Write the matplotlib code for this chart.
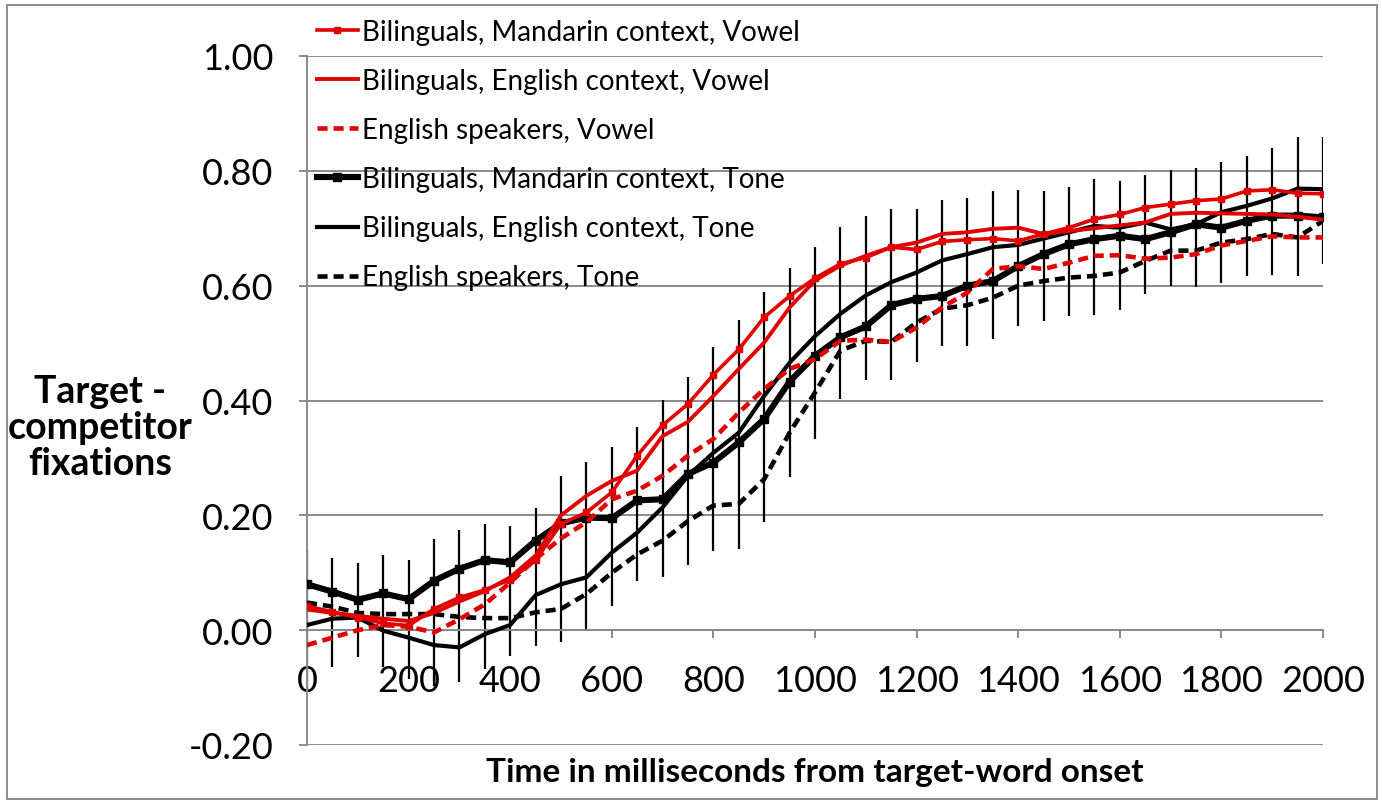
import matplotlib
matplotlib.use("Agg")
import matplotlib.pyplot as plt
from matplotlib.patches import Rectangle

plt.rcParams['font.family'] = ['Lato', 'DejaVu Sans']

# time points (ms after target-word onset)
TIME = list(range(0, 2001, 50))

LABELS = [
    "Bilinguals, Mandarin context, Vowel",
    "Bilinguals, English context, Vowel",
    "English speakers, Vowel",
    "Bilinguals, Mandarin context, Tone",
    "Bilinguals, English context, Tone",
    "English speakers, Tone",
]

vowel_mandarin = [0.042, 0.032, 0.022, 0.012, 0.008, 0.037, 0.057, 0.070, 0.088, 0.122,
                  0.185, 0.205, 0.240, 0.304, 0.357, 0.394, 0.445, 0.489, 0.545, 0.582,
                  0.613, 0.638, 0.649, 0.667, 0.663, 0.677, 0.680, 0.682, 0.678, 0.690,
                  0.701, 0.716, 0.724, 0.736, 0.742, 0.748, 0.751, 0.765, 0.767, 0.761,
                  0.760]
vowel_english = [0.036, 0.030, 0.025, 0.020, 0.016, 0.030, 0.050, 0.068, 0.092, 0.130,
                 0.200, 0.234, 0.260, 0.278, 0.338, 0.363, 0.408, 0.455, 0.501, 0.562,
                 0.609, 0.635, 0.652, 0.667, 0.675, 0.690, 0.693, 0.699, 0.701, 0.690,
                 0.695, 0.700, 0.705, 0.710, 0.725, 0.727, 0.726, 0.725, 0.724, 0.720,
                 0.715]
vowel_speakers = [-0.026, -0.013, 0.000, 0.009, 0.006, -0.004, 0.019, 0.045, 0.083, 0.124,
                  0.160, 0.188, 0.228, 0.243, 0.269, 0.304, 0.333, 0.379, 0.420, 0.455,
                  0.472, 0.504, 0.506, 0.502, 0.527, 0.562, 0.588, 0.629, 0.634, 0.629,
                  0.640, 0.652, 0.653, 0.647, 0.649, 0.655, 0.670, 0.678, 0.686, 0.684,
                  0.684]
tone_mandarin = [0.080, 0.067, 0.053, 0.064, 0.054, 0.086, 0.107, 0.122, 0.118, 0.156,
                 0.186, 0.196, 0.195, 0.226, 0.228, 0.272, 0.292, 0.327, 0.368, 0.433,
                 0.478, 0.510, 0.529, 0.566, 0.577, 0.582, 0.600, 0.608, 0.634, 0.655,
                 0.672, 0.681, 0.687, 0.681, 0.693, 0.707, 0.701, 0.713, 0.722, 0.722,
                 0.719]
tone_english = [0.009, 0.020, 0.022, -0.001, -0.013, -0.026, -0.030, -0.007, 0.009, 0.061,
                0.080, 0.092, 0.135, 0.170, 0.214, 0.269, 0.309, 0.344, 0.408, 0.466,
                0.512, 0.551, 0.583, 0.606, 0.623, 0.644, 0.655, 0.667, 0.671, 0.682,
                0.693, 0.704, 0.701, 0.710, 0.698, 0.707, 0.728, 0.739, 0.752, 0.769,
                0.768]
tone_speakers = [0.048, 0.041, 0.030, 0.028, 0.028, 0.028, 0.023, 0.021, 0.021, 0.031,
                 0.037, 0.063, 0.100, 0.132, 0.156, 0.190, 0.217, 0.220, 0.263, 0.344,
                 0.414, 0.487, 0.504, 0.502, 0.536, 0.560, 0.566, 0.579, 0.600, 0.608,
                 0.614, 0.617, 0.623, 0.643, 0.661, 0.661, 0.675, 0.681, 0.690, 0.684,
                 0.713]

# error bar ends as drawn in the original
err_low = [-0.103, -0.064, -0.047, -0.064, -0.085, -0.098, -0.091, -0.068, -0.045, -0.028,
           -0.021, 0.002, 0.042, 0.085, 0.092, 0.113, 0.138, 0.141, 0.188, 0.267,
           0.333, 0.402, 0.436, 0.436, 0.467, 0.495, 0.495, 0.507, 0.530, 0.538,
           0.547, 0.549, 0.557, 0.585, 0.599, 0.598, 0.605, 0.617, 0.618, 0.617,
           0.638]
err_high = [0.141, 0.125, 0.117, 0.131, 0.122, 0.159, 0.174, 0.185, 0.181, 0.213,
            0.268, 0.293, 0.319, 0.354, 0.401, 0.441, 0.493, 0.540, 0.589, 0.631,
            0.667, 0.702, 0.721, 0.733, 0.733, 0.749, 0.753, 0.765, 0.767, 0.765,
            0.772, 0.786, 0.782, 0.793, 0.801, 0.805, 0.815, 0.826, 0.840, 0.859,
            0.859]

RED = "#e00000"
GRID = "#8a8a8a"
DASH = (0, (2.2, 1.3))

fig = plt.figure(figsize=(13.82, 8.03), dpi=100)
ax = fig.add_axes([307 / 1382, 1 - 746 / 803, 1016 / 1382, 689 / 803])

ax.set_xlim(0, 2000)
ax.set_ylim(-0.2, 1.0)
ax.set_yticks([-0.2, 0.0, 0.2, 0.4, 0.6, 0.8, 1.0])
ax.set_yticklabels([f"{v:.2f}" for v in ax.get_yticks()])
ax.set_xticks(range(0, 2001, 200))
ax.grid(True, axis='y', color=GRID, linewidth=1.4)
ax.set_axisbelow(True)

for side in ['top', 'right']:
    ax.spines[side].set_visible(False)
ax.spines['bottom'].set_position(('data', 0))
ax.spines['bottom'].set_color(GRID)
ax.spines['bottom'].set_linewidth(1.4)
ax.spines['left'].set_color(GRID)
ax.spines['left'].set_linewidth(1.4)
ax.tick_params(axis='both', colors=GRID, width=1.4, length=6, labelcolor='black',
               labelsize=26)
ax.tick_params(axis='y', pad=18)
ax.tick_params(axis='x', pad=18)

ax.vlines(TIME, err_low, err_high, color='black', linewidth=1.6, zorder=2)

ax.plot(TIME, vowel_mandarin, color=RED, lw=2.6, marker='s', ms=5, label=LABELS[0], zorder=4)
ax.plot(TIME, vowel_english, color=RED, lw=2.8, label=LABELS[1], zorder=4)
ax.plot(TIME, vowel_speakers, color=RED, lw=3.3, ls=DASH, label=LABELS[2], zorder=4)
ax.plot(TIME, tone_mandarin, color='black', lw=4.4, marker='s', ms=6, label=LABELS[3], zorder=3)
ax.plot(TIME, tone_english, color='black', lw=3.0, label=LABELS[4], zorder=3)
ax.plot(TIME, tone_speakers, color='black', lw=3.3, ls=DASH, label=LABELS[5], zorder=3)

ax.legend(loc='upper left', bbox_to_anchor=(317 / 1382, 1 - 20 / 803),
          bbox_transform=fig.transFigure, frameon=False, fontsize=20,
          handlelength=1.47, handletextpad=0.15, labelspacing=0.83,
          borderpad=0, borderaxespad=0)

fig.text(100 / 1382, 1 - 428 / 803, "Target -\ncompetitor\nfixations", ha='center',
         va='center', fontsize=27, fontweight='bold', linespacing=1.07)
fig.text(815 / 1382, 1 - 773 / 803, "Time in milliseconds from target-word onset",
         ha='center', va='center', fontsize=24, fontweight='bold')

fig.patches.append(Rectangle((7 / 1382, 1 - 800 / 803), 1370 / 1382, 794 / 803,
                             transform=fig.transFigure, fill=False,
                             edgecolor=GRID, linewidth=1.4))

fig.savefig("out.png", dpi=100)
